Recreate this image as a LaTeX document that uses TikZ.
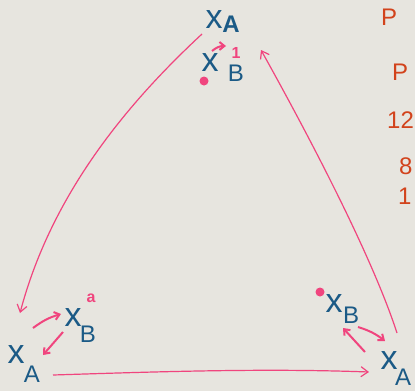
\documentclass[tikz,border=0pt]{standalone}
\usepackage{fontspec}
\setmainfont{Liberation Sans}
\usetikzlibrary{arrows.meta}
\definecolor{board}{HTML}{E7E5DF}
\definecolor{pinkm}{HTML}{F0457E}
\definecolor{bluem}{HTML}{1B5A86}
\definecolor{redm}{HTML}{D2431C}
\tikzset{
  edge/.style={draw=pinkm, line width=1.2pt, -{Straight Barb[length=7pt,width=10pt,line width=1.2pt]}},
  small/.style={draw=pinkm, line width=2pt, -{Straight Barb[length=5pt,width=8pt,line width=2pt]}},
  cross/.style={text=bluem, font=\fontsize{34}{34}\selectfont, inner sep=0pt, anchor=base, yshift=-9pt},
  lab/.style={text=bluem, font=\fontsize{24}{24}\selectfont, inner sep=0pt},
  note/.style={text=redm, font=\fontsize{24}{24}\selectfont, inner sep=0pt, anchor=west},
  pdot/.style={circle, fill=pinkm, inner sep=0pt, minimum size=9pt}
}
\begin{document}
\begin{tikzpicture}[x=1pt,y=-1pt]
\fill[board] (0,0) rectangle (415,391);
\useasboundingbox (0,0) rectangle (415,391);
% top group
\node[cross] (tx) at (214,19) {x};
\node[lab, font=\fontsize{24}{24}\selectfont\bfseries] (ta) at (231,24) {A};
\node[cross] (tbx) at (210,62) {x};
\node[lab] (tb) at (236,73) {B};
\node[pdot] (td) at (204,81) {};
\node[text=pinkm, font=\fontsize{16}{16}\selectfont\bfseries, inner sep=0pt] (tone) at (236,53) {1};
\coordinate (ta1) at (212,51);
\coordinate (ta2) at (226,46);
\draw[small] (ta1) to[bend left=20] (ta2);
% left group
\node[cross] (lx) at (73,317) {x};
\node[lab] (lb) at (88,334) {B};
\node[text=pinkm, font=\fontsize{16}{16}\selectfont\bfseries, inner sep=0pt] (la) at (91,298) {a};
\node[cross] (lax) at (16,354) {x};
\node[lab] (laa) at (32,374) {A};
\coordinate (l1) at (33,328);
\coordinate (l2) at (61,314);
\draw[small] (l1) to[bend left=10] (l2);
\coordinate (l3) at (63,332);
\coordinate (l4) at (43,355);
\draw[small] (l3) -- (l4);
% right group
\node[pdot] (rd) at (320,292) {};
\node[cross] (rx) at (334,303) {x};
\node[lab] (rb) at (351,315) {B};
\node[cross] (rax) at (389,360) {x};
\node[lab] (raa) at (403,377) {A};
\coordinate (r1) at (365,352);
\coordinate (r2) at (343,328);
\draw[small] (r1) -- (r2);
\coordinate (r3) at (358,327);
\coordinate (r4) at (385,341);
\draw[small] (r3) to[bend left=10] (r4);
% triangle edges
\coordinate (e1) at (202,34);
\coordinate (e2) at (20,313);
\draw[edge] (e1) .. controls (120,110) and (50,200) .. (e2);
\coordinate (e3) at (53,375);
\coordinate (e4) at (369,372);
\draw[edge] (e3) .. controls (150,372) and (260,368) .. (e4);
\coordinate (e5) at (397,333);
\coordinate (e6) at (261,50);
\draw[edge] (e5) .. controls (370,250) and (300,120) .. (e6);
% notes at right edge
\node[note] (n1) at (381,17) {P};
\node[note] (n2) at (392,72) {P};
\node[note] (n3) at (387,120) {12};
\node[note] (n4) at (399,166) {8};
\node[note] (n5) at (398,196) {1};
\end{tikzpicture}
\end{document}
